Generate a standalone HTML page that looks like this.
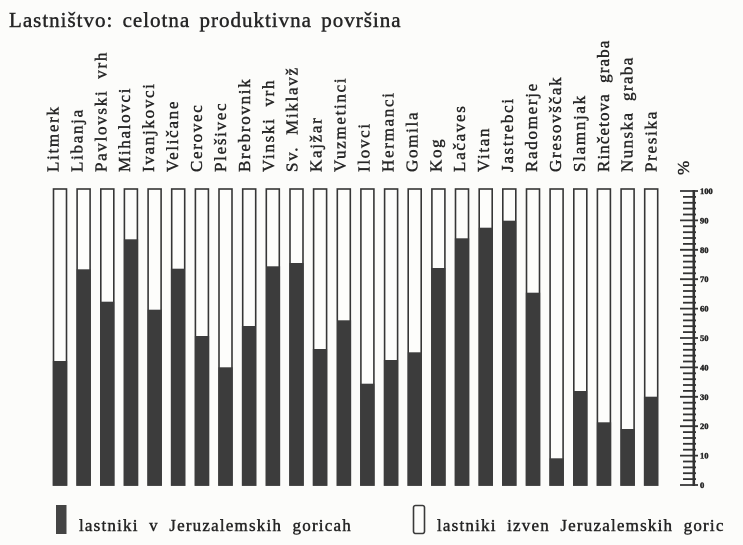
<!DOCTYPE html>
<html>
<head>
<meta charset="utf-8">
<style>
html,body{margin:0;padding:0;background:#fcfcfa;}
svg{display:block;}
svg text{font-family:"Liberation Serif","Times New Roman",Times,"DejaVu Serif",serif;fill:#262626;stroke:#262626;stroke-width:0.45px;}
</style>
</head>
<body>
<svg width="743" height="545" viewBox="0 0 743 545" xmlns="http://www.w3.org/2000/svg">
<rect x="0" y="0" width="743" height="545" fill="#fcfcfa"/>
<text x="9" y="27" font-size="21" letter-spacing="1" word-spacing="3">Lastništvo: celotna produktivna površina</text>

<g font-size="17" letter-spacing="1.7" word-spacing="5">
<text transform="translate(58.4,172) rotate(-90)">Litmerk</text>
<text transform="translate(82.3,172) rotate(-90)">Libanja</text>
<text transform="translate(106.3,172) rotate(-90)">Pavlovski vrh</text>
<text transform="translate(130.2,172) rotate(-90)">Mihalovci</text>
<text transform="translate(154.1,172) rotate(-90)">Ivanjkovci</text>
<text transform="translate(178.1,172) rotate(-90)">Veličane</text>
<text transform="translate(202.0,172) rotate(-90)">Cerovec</text>
<text transform="translate(225.9,172) rotate(-90)">Plešivec</text>
<text transform="translate(249.8,172) rotate(-90)">Brebrovnik</text>
<text transform="translate(273.8,172) rotate(-90)">Vinski vrh</text>
<text transform="translate(297.7,172) rotate(-90)">Sv. Miklavž</text>
<text transform="translate(321.6,172) rotate(-90)">Kajžar</text>
<text transform="translate(345.6,172) rotate(-90)">Vuzmetinci</text>
<text transform="translate(369.5,172) rotate(-90)">Ilovci</text>
<text transform="translate(393.4,172) rotate(-90)">Hermanci</text>
<text transform="translate(417.4,172) rotate(-90)">Gomila</text>
<text transform="translate(441.3,172) rotate(-90)">Kog</text>
<text transform="translate(465.2,172) rotate(-90)">Lačaves</text>
<text transform="translate(489.1,172) rotate(-90)">Vitan</text>
<text transform="translate(513.1,172) rotate(-90)">Jastrebci</text>
<text transform="translate(537.0,172) rotate(-90)">Radomerje</text>
<text transform="translate(560.9,172) rotate(-90)">Gresovščak</text>
<text transform="translate(584.9,172) rotate(-90)">Slamnjak</text>
<text transform="translate(608.8,172) rotate(-90)" letter-spacing="1.1">Rinčetova graba</text>
<text transform="translate(632.7,172) rotate(-90)" letter-spacing="1.4">Nunska graba</text>
<text transform="translate(656.7,172) rotate(-90)">Presika</text>
<text transform="translate(689,175) rotate(-90)">%</text>
</g>

<g stroke="#363636" stroke-width="1.6" fill="#fdfdfb">
<rect x="53.5" y="189" width="13" height="296"/>
<rect x="77.1" y="189" width="13" height="296"/>
<rect x="100.8" y="189" width="13" height="296"/>
<rect x="124.4" y="189" width="13" height="296"/>
<rect x="148.1" y="189" width="13" height="296"/>
<rect x="171.7" y="189" width="13" height="296"/>
<rect x="195.4" y="189" width="13" height="296"/>
<rect x="219.0" y="189" width="13" height="296"/>
<rect x="242.7" y="189" width="13" height="296"/>
<rect x="266.3" y="189" width="13" height="296"/>
<rect x="290.0" y="189" width="13" height="296"/>
<rect x="313.6" y="189" width="13" height="296"/>
<rect x="337.3" y="189" width="13" height="296"/>
<rect x="360.9" y="189" width="13" height="296"/>
<rect x="384.6" y="189" width="13" height="296"/>
<rect x="408.2" y="189" width="13" height="296"/>
<rect x="431.9" y="189" width="13" height="296"/>
<rect x="455.5" y="189" width="13" height="296"/>
<rect x="479.2" y="189" width="13" height="296"/>
<rect x="502.8" y="189" width="13" height="296"/>
<rect x="526.5" y="189" width="13" height="296"/>
<rect x="550.1" y="189" width="13" height="296"/>
<rect x="573.8" y="189" width="13" height="296"/>
<rect x="597.4" y="189" width="13" height="296"/>
<rect x="621.1" y="189" width="13" height="296"/>
<rect x="644.7" y="189" width="13" height="296"/>
</g>

<g fill="#3c3c3c">
<rect x="52.7" y="361" width="14.6" height="124.8"/>
<rect x="76.3" y="269.3" width="14.6" height="216.5"/>
<rect x="100.0" y="301.7" width="14.6" height="184.1"/>
<rect x="123.6" y="239.3" width="14.6" height="246.5"/>
<rect x="147.3" y="309.7" width="14.6" height="176.1"/>
<rect x="170.9" y="268.7" width="14.6" height="217.1"/>
<rect x="194.6" y="336" width="14.6" height="149.8"/>
<rect x="218.2" y="367.3" width="14.6" height="118.5"/>
<rect x="241.9" y="326" width="14.6" height="159.8"/>
<rect x="265.5" y="266.3" width="14.6" height="219.5"/>
<rect x="289.2" y="263" width="14.6" height="222.8"/>
<rect x="312.8" y="349" width="14.6" height="136.8"/>
<rect x="336.5" y="320.3" width="14.6" height="165.5"/>
<rect x="360.1" y="383.7" width="14.6" height="102.1"/>
<rect x="383.8" y="360" width="14.6" height="125.8"/>
<rect x="407.4" y="352.3" width="14.6" height="133.5"/>
<rect x="431.1" y="268" width="14.6" height="217.8"/>
<rect x="454.7" y="238.3" width="14.6" height="247.5"/>
<rect x="478.4" y="227.7" width="14.6" height="258.1"/>
<rect x="502.0" y="220.7" width="14.6" height="265.1"/>
<rect x="525.7" y="292.7" width="14.6" height="193.1"/>
<rect x="549.3" y="458.3" width="14.6" height="27.5"/>
<rect x="573.0" y="391" width="14.6" height="94.8"/>
<rect x="596.6" y="422.3" width="14.6" height="63.5"/>
<rect x="620.3" y="429" width="14.6" height="56.8"/>
<rect x="643.9" y="396.7" width="14.6" height="89.1"/>
</g>

<!-- axis -->
<g stroke="#333" stroke-width="1.8">
<line x1="693.8" y1="190" x2="693.8" y2="486" stroke-width="2.6"/>
<line x1="680" y1="485" x2="698" y2="485"/>
<line x1="683" y1="479.1" x2="696" y2="479.1"/>
<line x1="683" y1="473.2" x2="696" y2="473.2"/>
<line x1="683" y1="467.4" x2="696" y2="467.4"/>
<line x1="683" y1="461.5" x2="696" y2="461.5"/>
<line x1="680" y1="455.6" x2="698" y2="455.6"/>
<line x1="683" y1="449.7" x2="696" y2="449.7"/>
<line x1="683" y1="443.8" x2="696" y2="443.8"/>
<line x1="683" y1="438.0" x2="696" y2="438.0"/>
<line x1="683" y1="432.1" x2="696" y2="432.1"/>
<line x1="680" y1="426.2" x2="698" y2="426.2"/>
<line x1="683" y1="420.3" x2="696" y2="420.3"/>
<line x1="683" y1="414.4" x2="696" y2="414.4"/>
<line x1="683" y1="408.6" x2="696" y2="408.6"/>
<line x1="683" y1="402.7" x2="696" y2="402.7"/>
<line x1="680" y1="396.8" x2="698" y2="396.8"/>
<line x1="683" y1="390.9" x2="696" y2="390.9"/>
<line x1="683" y1="385.0" x2="696" y2="385.0"/>
<line x1="683" y1="379.2" x2="696" y2="379.2"/>
<line x1="683" y1="373.3" x2="696" y2="373.3"/>
<line x1="680" y1="367.4" x2="698" y2="367.4"/>
<line x1="683" y1="361.5" x2="696" y2="361.5"/>
<line x1="683" y1="355.6" x2="696" y2="355.6"/>
<line x1="683" y1="349.8" x2="696" y2="349.8"/>
<line x1="683" y1="343.9" x2="696" y2="343.9"/>
<line x1="680" y1="338.0" x2="698" y2="338.0"/>
<line x1="683" y1="332.1" x2="696" y2="332.1"/>
<line x1="683" y1="326.2" x2="696" y2="326.2"/>
<line x1="683" y1="320.4" x2="696" y2="320.4"/>
<line x1="683" y1="314.5" x2="696" y2="314.5"/>
<line x1="680" y1="308.6" x2="698" y2="308.6"/>
<line x1="683" y1="302.7" x2="696" y2="302.7"/>
<line x1="683" y1="296.8" x2="696" y2="296.8"/>
<line x1="683" y1="291.0" x2="696" y2="291.0"/>
<line x1="683" y1="285.1" x2="696" y2="285.1"/>
<line x1="680" y1="279.2" x2="698" y2="279.2"/>
<line x1="683" y1="273.3" x2="696" y2="273.3"/>
<line x1="683" y1="267.4" x2="696" y2="267.4"/>
<line x1="683" y1="261.6" x2="696" y2="261.6"/>
<line x1="683" y1="255.7" x2="696" y2="255.7"/>
<line x1="680" y1="249.8" x2="698" y2="249.8"/>
<line x1="683" y1="243.9" x2="696" y2="243.9"/>
<line x1="683" y1="238.0" x2="696" y2="238.0"/>
<line x1="683" y1="232.2" x2="696" y2="232.2"/>
<line x1="683" y1="226.3" x2="696" y2="226.3"/>
<line x1="680" y1="220.4" x2="698" y2="220.4"/>
<line x1="683" y1="214.5" x2="696" y2="214.5"/>
<line x1="683" y1="208.6" x2="696" y2="208.6"/>
<line x1="683" y1="202.8" x2="696" y2="202.8"/>
<line x1="683" y1="196.9" x2="696" y2="196.9"/>
<line x1="680" y1="191.0" x2="698" y2="191.0"/>
</g>
<g font-size="8.5" font-weight="bold">
<text x="700" y="488">0</text>
<text x="700" y="458.6">10</text>
<text x="700" y="429.2">20</text>
<text x="700" y="399.8">30</text>
<text x="700" y="370.4">40</text>
<text x="700" y="341">50</text>
<text x="700" y="311.6">60</text>
<text x="700" y="282.2">70</text>
<text x="700" y="252.8">80</text>
<text x="700" y="223.4">90</text>
<text x="700" y="194">100</text>
</g>

<!-- legend -->
<rect x="56" y="505" width="10.5" height="29" fill="#444"/>
<text x="79" y="531" font-size="17" letter-spacing="1.2" word-spacing="5">lastniki v Jeruzalemskih goricah</text>
<rect x="413.5" y="505.5" width="11" height="28" rx="2" fill="#fdfdfb" stroke="#3a3a3a" stroke-width="1.6"/>
<text x="437" y="531" font-size="17" letter-spacing="1.2" word-spacing="5">lastniki izven Jeruzalemskih goric</text>
</svg>
</body>
</html>
